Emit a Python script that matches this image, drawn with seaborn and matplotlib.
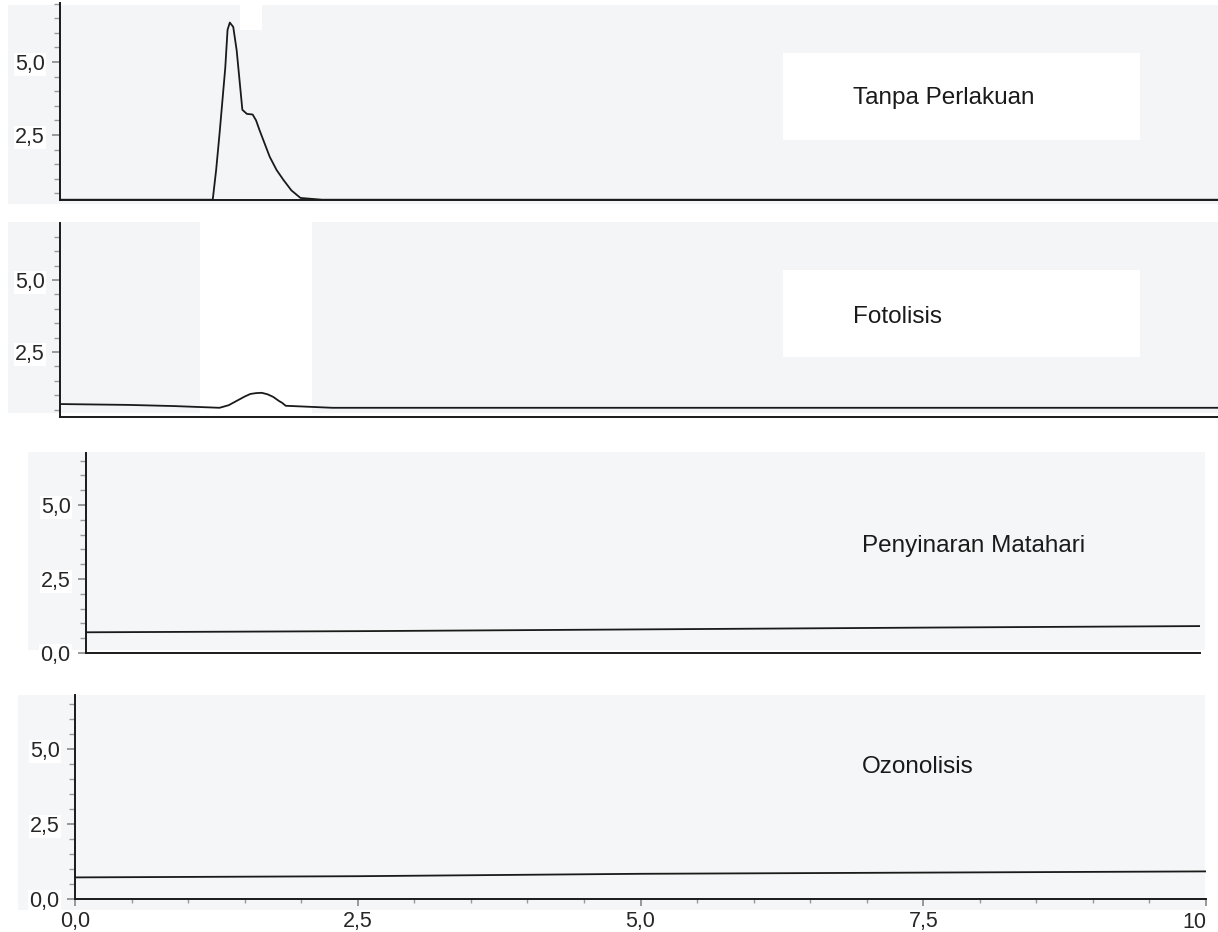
import seaborn as sns
import matplotlib.pyplot as plt
import pandas as pd
import numpy as np
from matplotlib.patches import Rectangle
from matplotlib.ticker import MultipleLocator, FixedLocator

# chromatogram traces (time, signal)
t_tanpa = [0.0, 1.34, 1.37, 1.40, 1.45, 1.47, 1.49, 1.52, 1.55, 1.60, 1.64, 1.69, 1.72,
           1.75, 1.84, 1.90, 1.96, 2.03, 2.11, 2.30, 10.16]
y_tanpa = [0.28, 0.28, 1.3, 2.55, 4.8, 6.1, 6.35, 6.2, 5.4, 3.36, 3.22, 3.2, 3.0,
           2.67, 1.75, 1.3, 0.96, 0.6, 0.34, 0.28, 0.28]

t_foto = [0.0, 0.6, 1.0, 1.40, 1.48, 1.55, 1.62, 1.67, 1.72, 1.77, 1.82, 1.87, 1.92,
          1.95, 1.98, 2.39, 10.16]
y_foto = [0.69, 0.66, 0.62, 0.56, 0.65, 0.80, 0.95, 1.04, 1.07, 1.08, 1.03, 0.94, 0.80,
          0.73, 0.63, 0.56, 0.56]

t_matahari = [0.0, 2.5, 5.0, 7.5, 9.86]
y_matahari = [0.70, 0.74, 0.80, 0.86, 0.91]

t_ozon = [0.0, 2.5, 5.0, 7.5, 10.0]
y_ozon = [0.72, 0.76, 0.84, 0.88, 0.92]

labels = ["Tanpa Perlakuan", "Fotolisis", "Penyinaran Matahari", "Ozonolisis"]
x_ticks = [0.0, 2.5, 5.0, 7.5, 10.0]
x_ticklabels = ["0,0", "2,5", "5,0", "7,5", "10"]

sns.set_style("white")
plt.rcParams["font.family"] = ["Liberation Sans", "DejaVu Sans"]

W, H = 1218, 932
fig = plt.figure(figsize=(W / 100, H / 100), dpi=100)
fig.patch.set_facecolor("white")


def px_rect(x0, y0, x1, y1, color):
    fig.add_artist(Rectangle((x0 / W, 1 - y1 / H), (x1 - x0) / W, (y1 - y0) / H,
                             transform=fig.transFigure, facecolor=color,
                             edgecolor="none", zorder=-2))


def add_ax(l, t, r, b):
    return fig.add_axes([l / W, 1 - b / H, (r - l) / W, (b - t) / H])


# scanned panel backgrounds
px_rect(8, 5, 1218, 204, "#f3f5f7")
px_rect(240, 5, 262, 30, "white")
px_rect(8, 222, 1218, 413, "#f3f5f7")
px_rect(200, 222, 312, 413, "white")
px_rect(783, 53, 1140, 140, "white")
px_rect(783, 270, 1140, 357, "white")
px_rect(28, 452, 1205, 650, "#f5f6f7")
px_rect(18, 695, 1205, 910, "#f5f6f7")

panels = [
    (t_tanpa, y_tanpa, (60, 3, 1218, 200), (0, 10.16), (0.27, 7.02)),
    (t_foto, y_foto, (60, 223, 1218, 417), (0, 10.16), (0.24, 6.98)),
    (t_matahari, y_matahari, (86, 453, 1200, 653), (0, 9.86), (0, 6.76)),
    (t_ozon, y_ozon, (75, 695, 1206, 899), (0, 10.0), (0, 6.8)),
]
label_pos = [(853, 98), (853, 317), (862, 546), (862, 767)]

for i, (t, y, box, xl, yl) in enumerate(panels):
    ax = add_ax(*box)
    ax.set_facecolor("none")
    df = pd.DataFrame({"t": t, "y": y})
    sns.lineplot(data=df, x="t", y="y", ax=ax, color="#1a1a1a", linewidth=1.3)
    ax.set_xlim(*xl)
    ax.set_ylim(*yl)
    ax.set_xlabel("")
    ax.set_ylabel("")
    for s in ["top", "right"]:
        ax.spines[s].set_visible(False)
    for s in ["left", "bottom"]:
        ax.spines[s].set_color("#1a1a1a")
        ax.spines[s].set_linewidth(1.4)

    yt = [2.5, 5.0] if yl[0] > 0 else [0.0, 2.5, 5.0]
    ax.yaxis.set_major_locator(FixedLocator(yt))
    ax.set_yticklabels([f"{v:.1f}".replace(".", ",") for v in yt], fontsize=15.5)
    ax.yaxis.set_minor_locator(MultipleLocator(0.5))
    ax.tick_params(axis="y", which="major", left=True, length=6, width=1.2,
                   color="#888888", pad=5)
    ax.tick_params(axis="y", which="minor", left=True, length=4, width=1.0,
                   color="#999999")
    for lab in ax.get_yticklabels():
        lab.set_bbox(dict(facecolor="white", edgecolor="none", pad=1))

    if i == 3:
        ax.xaxis.set_major_locator(FixedLocator(x_ticks))
        ax.set_xticklabels(x_ticklabels, fontsize=15.5)
        ax.get_xticklabels()[-1].set_horizontalalignment("right")
        ax.xaxis.set_minor_locator(MultipleLocator(0.5))
        ax.tick_params(axis="x", which="major", bottom=True, length=5, width=1.2,
                       color="#888888", pad=4)
        ax.tick_params(axis="x", which="minor", bottom=True, length=3, width=1.0,
                       color="#999999")
    else:
        ax.set_xticks([])

    lx, ly = label_pos[i]
    fig.text(lx / W, 1 - ly / H, labels[i], fontsize=17.5, color="#1a1a1a",
             ha="left", va="center")

fig.savefig("out.png", dpi=100)
